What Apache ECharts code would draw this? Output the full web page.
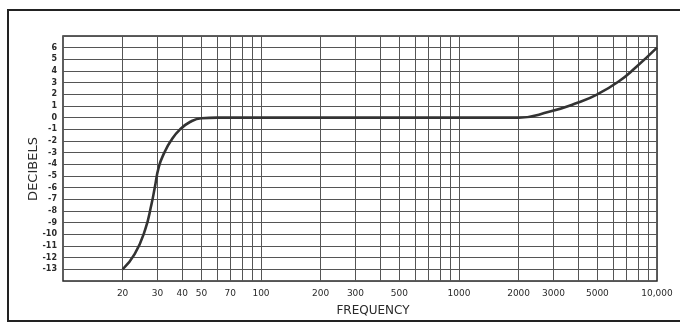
<!DOCTYPE html>
<html>
<head>
<meta charset="utf-8">
<script src="https://cdn.jsdelivr.net/npm/echarts@6/dist/echarts.min.js"></script>
<style>
  html, body { margin: 0; padding: 0; background: #fff; }
  #chart { width: 680px; height: 326px; }
</style>
</head>
<body>
<div id="chart"></div>
<script>
// Frequency response curve (Hz vs dB)
const freqHz = [20, 23, 26, 28, 29, 30.5, 32.5, 35, 39, 44, 50, 60, 200, 2000, 2850, 4000, 5000, 6400, 7800, 10000];
const levelDb = [-13, -11.7, -9.6, -7.4, -6.1, -4.2, -3.0, -2, -1, -0.35, -0.05, 0, 0, 0, 0.5, 1.3, 2.0, 3.1, 4.3, 6.0];

// Vertical rulings of the log paper and the frequencies that carry a label
const gridFreqs = [20, 30, 40, 50, 60, 70, 80, 90, 100, 200, 300, 400, 500, 600, 700, 800, 900, 1000,
                   2000, 3000, 4000, 5000, 6000, 7000, 8000, 9000, 10000];
const freqLabels = [20, 30, 40, 50, 70, 100, 200, 300, 500, 1000, 2000, 3000, 5000, 10000];
const dbTicks = [-13, -12, -11, -10, -9, -8, -7, -6, -5, -4, -3, -2, -1, 0, 1, 2, 3, 4, 5, 6];

const ink = '#2a2a2a';
const font = 'DejaVu Sans';

const chart = echarts.init(document.getElementById('chart'), null, { renderer: 'canvas' });
chart.setOption({
  backgroundColor: '#fff',
  animation: false,
  grid: {
    left: 63, right: 23, top: 36, bottom: 45,
    show: true, borderColor: ink, borderWidth: 1.5, backgroundColor: 'transparent'
  },
  xAxis: {
    type: 'log', logBase: 10, min: 10, max: 10000,
    axisLine: { show: false },
    axisTick: { show: false, customValues: gridFreqs },
    splitLine: { show: true, lineStyle: { color: '#555', width: 1 } },
    axisLabel: {
      customValues: freqLabels,
      margin: 8,
      color: ink, fontFamily: font, fontSize: 9,
      formatter: v => v === 10000 ? '10,000' : String(v)
    },
    name: 'FREQUENCY',
    nameLocation: 'middle',
    nameGap: 24,
    nameTextStyle: { color: ink, fontFamily: font, fontSize: 12, padding: [0, 0, 0, 26] }
  },
  yAxis: {
    type: 'value', min: -14, max: 7, interval: 1,
    axisLine: { show: false },
    axisTick: { show: false },
    splitLine: { show: true, lineStyle: { color: '#555', width: 1 } },
    axisLabel: {
      customValues: dbTicks,
      margin: 6,
      color: ink, fontFamily: font, fontSize: 8, fontWeight: 'bold',
      formatter: v => String(v)
    },
    name: 'DECIBELS',
    nameLocation: 'middle',
    nameMoveOverlap: false,
    nameGap: 23,
    nameRotate: 90,
    nameTextStyle: { color: ink, fontFamily: font, fontSize: 13, padding: [0, 21, 0, 0] }
  },
  graphic: [
    { type: 'polyline', silent: true,
      shape: { points: [[690, 10], [8, 10], [8, 321], [690, 321]] },
      style: { stroke: '#222', lineWidth: 2, fill: null } }
  ],
  series: [{
    type: 'line',
    data: freqHz.map((f, i) => [f, levelDb[i]]),
    smooth: true,
    showSymbol: false,
    lineStyle: { color: '#333', width: 2.6 }
  }]
});
</script>
</body>
</html>
